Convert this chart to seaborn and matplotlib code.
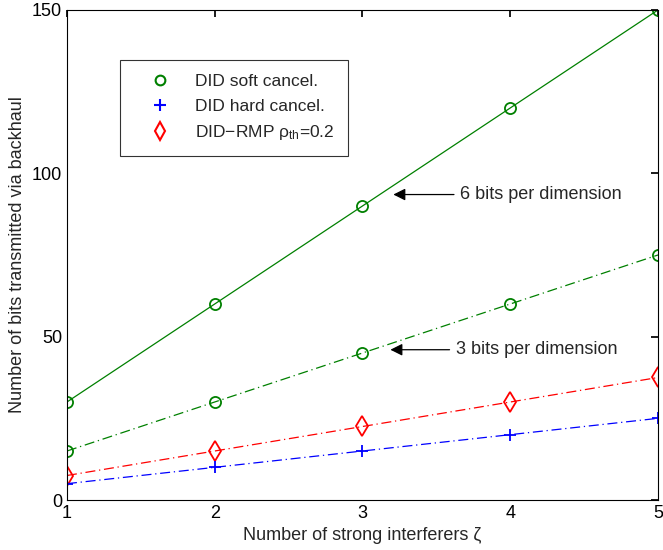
import matplotlib
matplotlib.use("Agg")
import matplotlib.pyplot as plt
from matplotlib.lines import Line2D
import seaborn as sns
import pandas as pd

zeta = [1, 2, 3, 4, 5]
soft_6bits = [30, 60, 90, 120, 150]
soft_3bits = [15, 30, 45, 60, 75]
rmp_3bits = [7.5, 15, 22.5, 30, 37.5]
hard_3bits = [5, 10, 15, 20, 25]
legend_labels = ["DID soft cancel.", "DID hard cancel.", "DID\u2212RMP ρ$_{\\rm th}$=0.2"]

sns.set_theme(style="white")
plt.rcParams['font.family'] = ['Liberation Sans', 'DejaVu Sans']
plt.rcParams['mathtext.fontset'] = 'custom'
plt.rcParams['mathtext.rm'] = 'Liberation Sans'
plt.rcParams['mathtext.it'] = 'Liberation Sans:italic'

fig = plt.figure(figsize=(6.63, 5.5), dpi=100)
ax = fig.add_axes([0.101, 0.0909, 0.8915, 0.891])

green = "#008000"
dashdot = (0, (8, 3, 1, 3))
series = [
    (soft_6bits, green, "-", "o", 8),
    (soft_3bits, green, dashdot, "o", 8),
    (rmp_3bits, "red", dashdot, "d", 10),
    (hard_3bits, "blue", dashdot, "+", 9),
]
for vals, col, ls, mk, ms in series:
    df = pd.DataFrame({"x": zeta, "y": vals})
    sns.lineplot(data=df, x="x", y="y", ax=ax, color=col, linestyle=ls, linewidth=0.9,
                 marker=mk, markersize=ms, markerfacecolor="none" if mk != "+" else col,
                 markeredgecolor=col, markeredgewidth=1.3, legend=False)

ax.set_xlim(1, 5)
ax.set_ylim(0, 150)
ax.set_xticks([1, 2, 3, 4, 5])
ax.set_yticks([0, 50, 100, 150])
ax.tick_params(direction="in", length=5, labelsize=13, colors="black", top=True, right=True)
for s in ax.spines.values():
    s.set_color("black")
    s.set_linewidth(0.8)
ax.set_xlabel("Number of strong interferers ζ", fontsize=13)
ax.set_ylabel("Number of bits transmitted via backhaul", fontsize=13)

handles = [
    Line2D([], [], color=green, marker="o", linestyle="none", markersize=7, markerfacecolor="none", markeredgewidth=1.5),
    Line2D([], [], color="blue", marker="+", linestyle="none", markersize=8, markeredgewidth=1.5),
    Line2D([], [], color="red", marker="d", linestyle="none", markersize=9, markerfacecolor="none", markeredgewidth=1.5),
]
leg = ax.legend(handles, legend_labels, loc="upper left", bbox_to_anchor=(0.09, 0.898),
                borderaxespad=0, fontsize=12.5, frameon=True, fancybox=False, edgecolor="black",
                handletextpad=0.5, borderpad=0.8, labelspacing=0.55, handlelength=3.0)
leg.get_frame().set_linewidth(0.8)

arrow = dict(arrowstyle="-|>", color="black", lw=0.9, mutation_scale=18)
ax.annotate("6 bits per dimension", xy=(3.19, 93.5), xytext=(3.66, 93.5),
            fontsize=13, va="center", arrowprops=arrow)
ax.annotate("3 bits per dimension", xy=(3.17, 46), xytext=(3.63, 46),
            fontsize=13, va="center", arrowprops=arrow)

fig.savefig("out.png", dpi=100)
